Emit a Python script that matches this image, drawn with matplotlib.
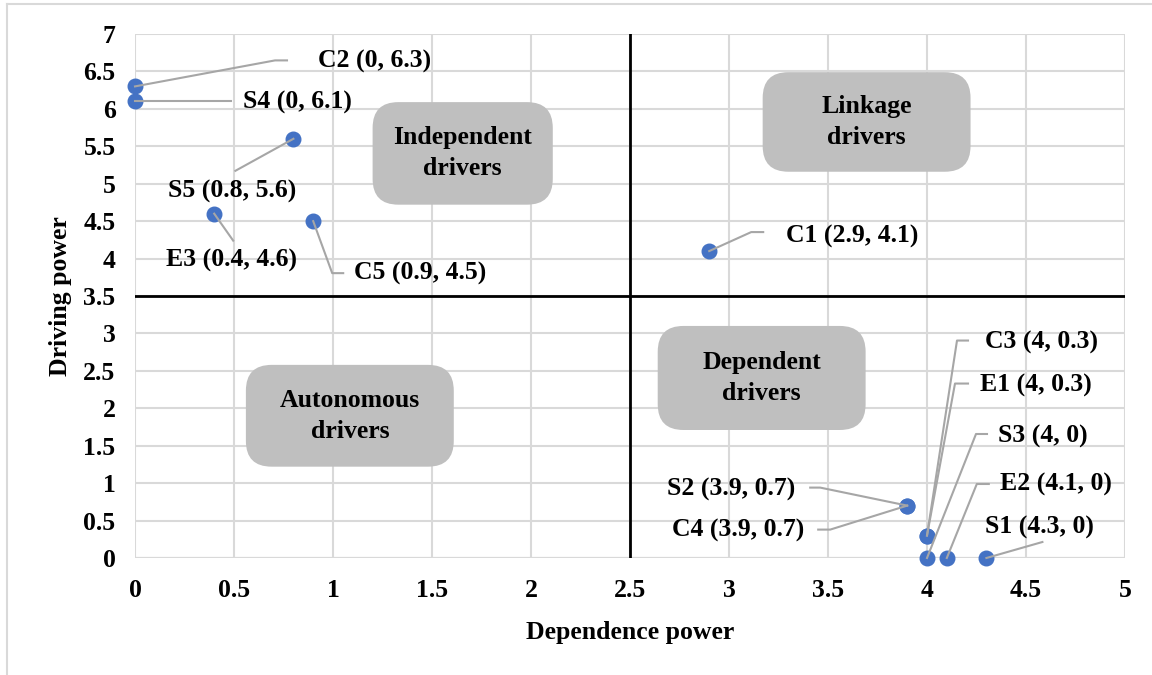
import numpy as np
import matplotlib.pyplot as plt
from matplotlib.patches import FancyBboxPatch
from matplotlib.lines import Line2D

plt.rcParams['font.family'] = ['Liberation Serif', 'DejaVu Serif']
plt.rcParams['font.weight'] = 'bold'

# data
names = ['C2', 'S4', 'S5', 'E3', 'C5', 'C1', 'C3', 'E1', 'S3', 'E2', 'S1', 'S2', 'C4']
dep = [0, 0, 0.8, 0.4, 0.9, 2.9, 4, 4, 4, 4.1, 4.3, 3.9, 3.9]
drv = [6.3, 6.1, 5.6, 4.6, 4.5, 4.1, 0.3, 0.3, 0, 0, 0, 0.7, 0.7]
x_ticks = [0, 0.5, 1, 1.5, 2, 2.5, 3, 3.5, 4, 4.5, 5]
y_ticks = [0, 0.5, 1, 1.5, 2, 2.5, 3, 3.5, 4, 4.5, 5, 5.5, 6, 6.5, 7]
x_mid = 2.5
y_mid = 3.5
quadrants = ['Independent\ndrivers', 'Linkage\ndrivers', 'Dependent\ndrivers', 'Autonomous\ndrivers']

# label placement: text offset (px, left/center anchor) and leader path offsets (px)
label_pos = {
    'C2': ((183, 25), [(0, 0), (140, 26), (152, 26)]),
    'S4': ((108, -1), [(0, 0), (96, 0)]),
    'S5': ((-125, -53), [(0, 0), (-58, -32)]),
    'E3': ((-48, -47), [(0, 0), (19, -27)]),
    'C5': ((41, -52), [(0, 0), (19, -52), (30, -52)]),
    'C1': ((77, 15), [(0, 0), (42, 19), (54, 19)]),
    'C3': ((58, 193), [(0, 0), (30, 195), (41, 195)]),
    'E1': ((53, 150), [(0, 0), (28, 152), (41, 152)]),
    'S3': ((71, 122), [(0, 0), (49, 124), (60, 124)]),
    'E2': ((53, 74), [(0, 0), (30, 74), (42, 74)]),
    'S1': ((-1, 31), [(0, 0), (56, 16)]),
    'S2': ((-240, 16), [(0, 0), (-87, 18), (-97, 18)]),
    'C4': ((-235, -25), [(0, 0), (-77, -24), (-89, -24)]),
}

# box layout in data units: (x0, y0, w, h)
box_pos = [(1.20, 4.72, 0.91, 1.37), (3.17, 5.16, 1.05, 1.33),
           (2.64, 1.71, 1.05, 1.39), (0.56, 1.22, 1.05, 1.36)]

fs = 18.5

fig = plt.figure(figsize=(11.52, 6.75), dpi=100)
ax = fig.add_axes([135 / 1152, 1 - 558 / 675, 990 / 1152, 524 / 675])
ax.set_xlim(0, 5)
ax.set_ylim(0, 7)
ax.set_xticks(x_ticks)
ax.set_yticks(y_ticks)
ax.set_xticklabels([f'{t:g}' for t in x_ticks])
ax.set_yticklabels([f'{t:g}' for t in y_ticks])
ax.tick_params(length=0, labelsize=fs)
ax.tick_params(axis='x', pad=15)
ax.tick_params(axis='y', pad=14)
ax.grid(True, color='#d9d9d9', linewidth=1.5, zorder=0)
for s in ax.spines.values():
    s.set_visible(False)
ax.axhline(0, color='#bfbfbf', linewidth=1.5, zorder=1)

ax.axvline(x_mid, color='black', linewidth=2, zorder=2)
ax.axhline(y_mid, color='black', linewidth=2, zorder=2)

for (x0, y0, w, h), txt in zip(box_pos, quadrants):
    ax.add_patch(FancyBboxPatch((x0, y0), w, h,
                                boxstyle='round,pad=0,rounding_size=0.13',
                                mutation_aspect=2.65,
                                facecolor='#bfbfbf', edgecolor='none', zorder=3))
    ax.text(x0 + w / 2, y0 + h / 2, txt, ha='center', va='center',
            fontsize=fs, fontweight='bold', linespacing=1.45, zorder=4)

ax.set_xlabel('Dependence power', fontsize=fs, fontweight='bold', labelpad=14)
ax.set_ylabel('Driving power', fontsize=fs, fontweight='bold', labelpad=8)

fig.canvas.draw()
for n, x, y in zip(names, dep, drv):
    px, py = ax.transData.transform((x, y))
    (tx, ty), path = label_pos[n]
    xs = [px + dx for dx, dy in path]
    ys = [py + dy for dx, dy in path]
    fig.add_artist(Line2D(xs, ys, transform=None, color='#a6a6a6', linewidth=1.5, zorder=5))
    fig.text(px + tx, py + ty, f'{n} ({x:g}, {y:g})', transform=None,
             ha='left', va='center', fontsize=fs, fontweight='bold', zorder=6)

ax.scatter(dep, drv, s=110, color='#4472c4', zorder=4, clip_on=False)

# chart outer border
fig.add_artist(Line2D([7, 1152], [671, 671], transform=None, color='#d9d9d9', linewidth=1.5))
fig.add_artist(Line2D([7, 7], [0, 671], transform=None, color='#d9d9d9', linewidth=1.5))

fig.savefig('out.png', dpi=100)
